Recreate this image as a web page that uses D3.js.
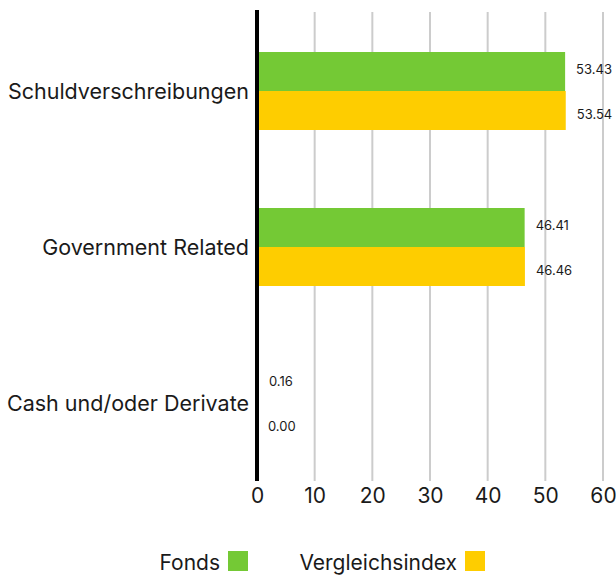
<!DOCTYPE html>
<html>
<head>
<meta charset="utf-8">
<script src="https://cdn.jsdelivr.net/npm/d3@7"></script>
<style>
  body { margin: 0; background: #fff; }
  text { font-family: Inter, "Noto Sans", sans-serif; fill: #1a1a1a; }
</style>
</head>
<body>
<script>
var categories = ['Schuldverschreibungen', 'Government Related', 'Cash und/oder Derivate'];
var seriesNames = ['Fonds', 'Vergleichsindex'];
var fondsValues = [53.43, 46.41, 0.16];
var indexValues = [53.54, 46.46, 0.00];
var xTicks = [0, 10, 20, 30, 40, 50, 60];
var colors = ['#74c935', '#fecd00'];

var width = 616, height = 578;

var x = d3.scaleLinear()
    .domain([0, 60])
    .range([257, 603]);

var y = d3.scaleBand()
    .domain(categories)
    .range([13, 481])
    .paddingInner(0.5)
    .paddingOuter(0.25);

var ySub = d3.scaleBand()
    .domain(seriesNames)
    .range([0, y.bandwidth()]);

// labels of the upper bar sit a bit higher, lower bar a bit lower
var labelShift = {'Fonds': -2, 'Vergleichsindex': 4};

var svg = d3.select("body").append("svg")
    .attr("width", width)
    .attr("height", height);

// vertical grid lines
svg.append("g")
    .selectAll("line")
    .data(xTicks.slice(1))
    .join("line")
    .attr("x1", function(d) { return x(d); })
    .attr("x2", function(d) { return x(d); })
    .attr("y1", 12)
    .attr("y2", 481)
    .attr("stroke", "#cccccc")
    .attr("stroke-width", 2);

var rows = categories.map(function(c, i) {
    return [
        {cat: c, s: seriesNames[0], v: fondsValues[i], color: colors[0]},
        {cat: c, s: seriesNames[1], v: indexValues[i], color: colors[1]}
    ];
});
var flat = d3.merge(rows);

svg.append("g")
    .selectAll("rect")
    .data(flat)
    .join("rect")
    .attr("x", x(0))
    .attr("y", function(d) { return y(d.cat) + ySub(d.s); })
    .attr("width", function(d) { return x(d.v) - x(0); })
    .attr("height", ySub.bandwidth())
    .attr("fill", function(d) { return d.color; });

// value labels
svg.append("g")
    .selectAll("text")
    .data(flat)
    .join("text")
    .attr("x", function(d) { return x(d.v) + 11; })
    .attr("y", function(d) { return y(d.cat) + ySub(d.s) + ySub.bandwidth() / 2 + labelShift[d.s]; })
    .attr("dy", "0.35em")
    .attr("font-size", 13)
    .text(function(d) { return d.v.toFixed(2); });

// category labels
svg.append("g")
    .selectAll("text")
    .data(categories)
    .join("text")
    .attr("x", 249)
    .attr("y", function(d) { return y(d) + y.bandwidth() / 2; })
    .attr("dy", "0.35em")
    .attr("text-anchor", "end")
    .attr("font-size", 21.5)
    .text(function(d) { return d; });

// x axis labels
var xAxis = d3.axisBottom(x)
    .tickValues(xTicks)
    .tickSize(0)
    .tickPadding(0);

var axisG = svg.append("g")
    .attr("transform", "translate(0,488)")
    .call(xAxis);
axisG.select(".domain").remove();
axisG.selectAll("text")
    .attr("font-size", 21)
    .attr("font-family", "Inter, 'Noto Sans', sans-serif")
    .attr("fill", "#1a1a1a");

// zero line
svg.append("line")
    .attr("x1", x(0))
    .attr("x2", x(0))
    .attr("y1", 10)
    .attr("y2", 481)
    .attr("stroke", "#000")
    .attr("stroke-width", 4);

// legend
var legendItems = [
    {name: seriesNames[0], color: colors[0], textEnd: 220, box: 228},
    {name: seriesNames[1], color: colors[1], textEnd: 457, box: 465}
];
var lg = svg.append("g");
legendItems.forEach(function(d) {
    lg.append("text")
        .attr("x", d.textEnd)
        .attr("y", 570)
        .attr("text-anchor", "end")
        .attr("font-size", 21)
        .text(d.name);
    lg.append("rect")
        .attr("x", d.box)
        .attr("y", 551)
        .attr("width", 20)
        .attr("height", 20)
        .attr("fill", d.color);
});
</script>
</body>
</html>
